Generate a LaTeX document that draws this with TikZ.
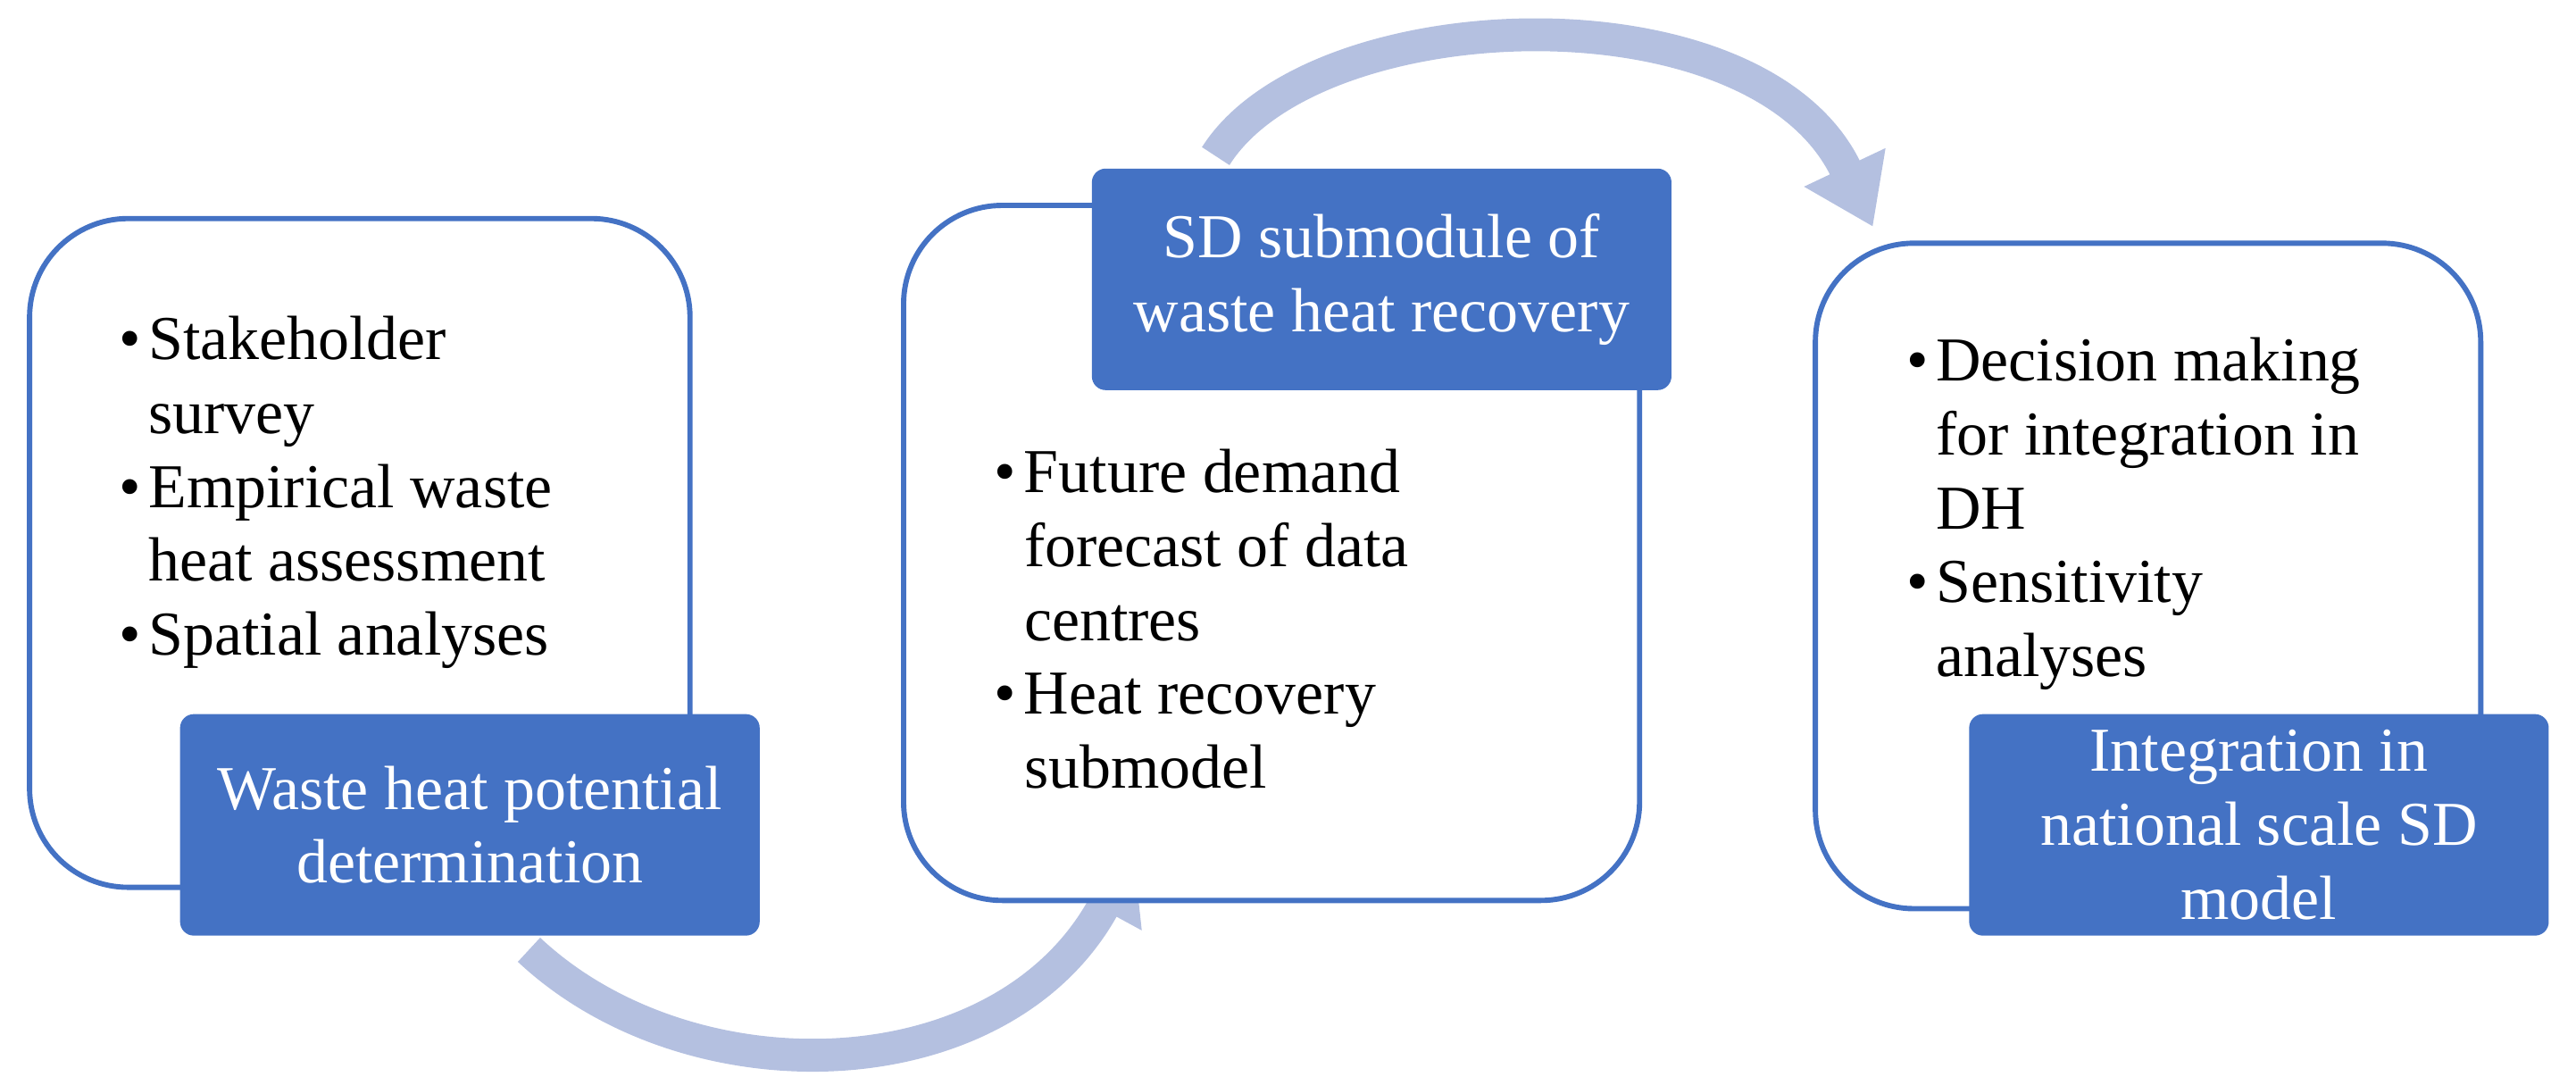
\documentclass[tikz,border=0pt]{standalone}
\usepackage{fontspec}
\setmainfont{Liberation Serif}
\usetikzlibrary{arrows.meta}
\definecolor{bb}{HTML}{4472C4}
\definecolor{la}{HTML}{B4C0E0}
\newcommand\bl{\makebox[9pt][l]{\textbullet}}
\newcommand\ind{\hspace*{9pt}}
\begin{document}
\begin{tikzpicture}[x=0.5pt,y=-0.5pt,
 frame/.style={draw=bb,line width=1.6pt,fill=white,rounded corners=30pt},
 lab/.style={fill=bb,draw=bb,rounded corners=4pt,text=white,align=center,font=\fontsize{19}{22.5}\selectfont},
 txt/.style={anchor=north west,align=left,font=\fontsize{19}{22.5}\selectfont,inner sep=0pt},
 arr/.style={draw=la,line width=10pt,-{Triangle[length=20pt,width=26pt]}}]
\useasboundingbox (0,0) rectangle (1568,655);
\coordinate (a1) at (322,578); \coordinate (a2) at (690,518);
\coordinate (b1) at (740,95); \coordinate (b2) at (1140,138);
\draw[arr] (a1) .. controls (420,670) and (610,665) .. (a2);
\draw[arr] (b1) .. controls (800,0) and (1070,-10) .. (b2);
\draw[frame] (18,133) rectangle (420,540);
\draw[frame] (550,125) rectangle (998,548);
\draw[frame] (1105,148) rectangle (1510,553);
\node[lab,minimum width=176pt,minimum height=67pt] (l1) at (286,502) {Waste heat potential\\determination};
\node[lab,minimum width=176pt,minimum height=67pt] (l2) at (841,170) {SD submodule of\\waste heat recovery};
\node[lab,minimum width=176pt,minimum height=67pt] (l3) at (1375,502) {Integration in\\national scale SD\\model};
\node[txt] (t1) at (72,192) {\bl Stakeholder\\\ind survey\\\bl Empirical waste\\\ind heat assessment\\\bl Spatial analyses};
\node[txt] (t2) at (605,273) {\bl Future demand\\\ind forecast of data\\\ind centres\\\bl Heat recovery\\\ind submodel};
\node[txt] (t3) at (1160,205) {\bl Decision making\\\ind for integration in\\\ind DH\\\bl Sensitivity\\\ind analyses};
\end{tikzpicture}
\end{document}
